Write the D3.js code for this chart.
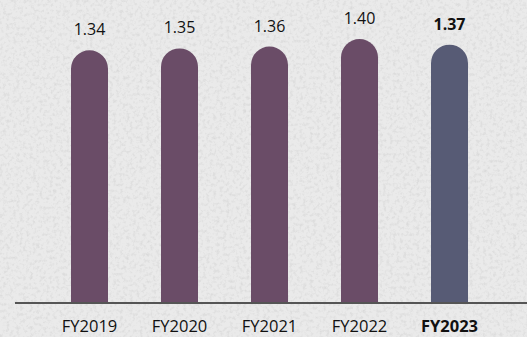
<!DOCTYPE html>
<html>
<head>
<meta charset="utf-8">
<script src="https://cdn.jsdelivr.net/npm/d3@7"></script>
<style>
  html, body { margin: 0; padding: 0; background: #e9e9e9; }
  svg { display: block; }
  .label { font-family: "Open Sans", sans-serif; fill: #111; }
</style>
</head>
<body>
<div id="chart"></div>
<script>
{
  const categories = ['FY2019', 'FY2020', 'FY2021', 'FY2022', 'FY2023'];
  const values = [1.34, 1.35, 1.36, 1.40, 1.37];
  const valueLabels = ['1.34', '1.35', '1.36', '1.40', '1.37'];
  const highlight = 'FY2023';

  const color = {
    bar: '#6a4c67',
    current: '#575b75',
    axis: '#555555',
    bg: '#eaeaea'
  };

  const width = 527;
  const height = 337;
  const baseY = 302;

  const svg = d3.select('#chart')
    .append('svg')
    .attr('width', width)
    .attr('height', height);

  // textured background (soft stone grain)
  const defs = svg.append('defs');
  const filter = defs.append('filter')
    .attr('id', 'grain')
    .attr('x', 0).attr('y', 0).attr('width', '100%').attr('height', '100%');
  filter.append('feTurbulence')
    .attr('type', 'fractalNoise')
    .attr('baseFrequency', 0.3)
    .attr('numOctaves', 4)
    .attr('seed', 7)
    .attr('result', 'noise');
  filter.append('feColorMatrix')
    .attr('in', 'noise')
    .attr('type', 'matrix')
    .attr('values', '0 0 0 0 0  0 0 0 0 0  0 0 0 0 0  0 0 0 -2 1.1');
  svg.append('rect')
    .attr('width', width).attr('height', height)
    .attr('fill', color.bg);
  svg.append('rect')
    .attr('width', width).attr('height', height)
    .attr('filter', 'url(#grain)')
    .attr('opacity', 0.07);

  // scales
  const x = d3.scaleBand()
    .domain(categories)
    .range([44.5, 494.5])
    .padding(0);
  const y = d3.scaleLinear()
    .domain([0, 1.40])
    .range([baseY, 39]);

  const barW = 37;
  const r = barW / 2;

  // bars with rounded tops
  svg.append('g')
    .selectAll('path')
    .data(values)
    .join('path')
    .attr('fill', (d, i) => categories[i] === highlight ? color.current : color.bar)
    .attr('d', (d, i) => {
      const cx = x(categories[i]) + x.bandwidth() / 2;
      const x0 = cx - r, x1 = cx + r;
      const top = y(d);
      return `M${x0},${baseY} L${x0},${top + r} A${r},${r} 0 0 1 ${x1},${top + r} L${x1},${baseY} Z`;
    });

  // value labels
  svg.append('g')
    .selectAll('text')
    .data(values)
    .join('text')
    .attr('class', 'label')
    .attr('x', (d, i) => x(categories[i]) + x.bandwidth() / 2)
    .attr('y', d => y(d) - 15)
    .attr('text-anchor', 'middle')
    .style('font-size', '16px')
    .style('font-weight', (d, i) => categories[i] === highlight ? 700 : 400)
    .text((d, i) => valueLabels[i]);

  // baseline
  svg.append('line')
    .attr('x1', 15).attr('x2', width)
    .attr('y1', baseY + 1).attr('y2', baseY + 1)
    .attr('stroke', color.axis)
    .attr('stroke-width', 2);

  // x axis labels
  const xAxis = d3.axisBottom(x).tickSize(0).tickPadding(0);
  const axisG = svg.append('g')
    .attr('transform', `translate(0, ${baseY})`)
    .call(xAxis);
  axisG.select('.domain').remove();
  axisG.selectAll('text')
    .attr('class', 'label')
    .attr('dy', null)
    .attr('y', 30)
    .style('font-size', '16.5px')
    .style('font-weight', d => d === highlight ? 700 : 400);
}
</script>
</body>
</html>
